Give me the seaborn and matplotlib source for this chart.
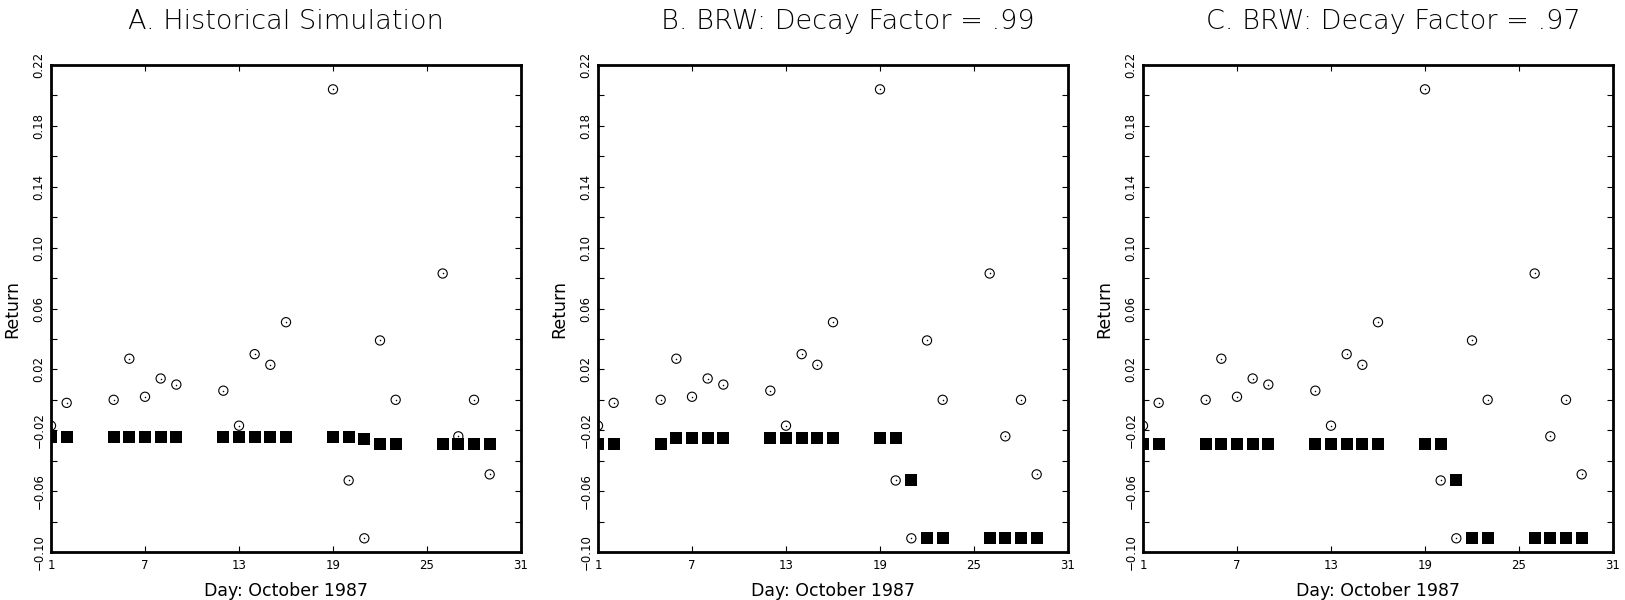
import matplotlib
matplotlib.use("Agg")
import matplotlib.pyplot as plt
import pandas as pd
import seaborn as sns
from matplotlib.ticker import FixedLocator, FixedFormatter

# Trading days of October 1987 and the realised daily returns
days = [1, 2, 5, 6, 7, 8, 9, 12, 13, 14, 15, 16, 19, 20, 21, 22, 23, 26, 27, 28, 29]
returns = [-0.017, -0.002, 0.000, 0.027, 0.002, 0.014, 0.010, 0.006, -0.017, 0.030,
           0.023, 0.051, 0.204, -0.053, -0.091, 0.039, 0.000, 0.083, -0.024, 0.000,
           -0.049]

# Value-at-risk forecasts for each method
var_hist = [-0.0245, -0.0245, -0.0245, -0.0245, -0.0245, -0.0245, -0.0245, -0.0245,
            -0.0245, -0.0245, -0.0245, -0.0245, -0.0245, -0.0245, -0.0255, -0.029,
            -0.029, -0.029, -0.029, -0.029, -0.029]
var_brw99 = [-0.029, -0.029, -0.029, -0.0248, -0.0248, -0.0248, -0.0248, -0.0248,
             -0.0248, -0.0248, -0.0248, -0.0248, -0.0248, -0.0248, -0.053, -0.091,
             -0.091, -0.091, -0.091, -0.091, -0.091]
var_brw97 = [-0.029, -0.029, -0.029, -0.029, -0.029, -0.029, -0.029, -0.029,
             -0.029, -0.029, -0.029, -0.029, -0.029, -0.029, -0.053, -0.091,
             -0.091, -0.091, -0.091, -0.091, -0.091]

titles = ["A. Historical Simulation", "B. BRW: Decay Factor = .99",
          "C. BRW: Decay Factor = .97"]

x_ticks = [1, 7, 13, 19, 25, 31]
x_tick_labels = ["1", "7", "13", "19", "25", "31"]
y_ticks = [-0.10, -0.06, -0.02, 0.02, 0.06, 0.10, 0.14, 0.18, 0.22]
y_tick_labels = ["\u22120.10", "\u22120.06", "\u22120.02", "0.02", "0.06", "0.10",
                 "0.14", "0.18", "0.22"]
y_minor_ticks = [-0.08, -0.04, 0.00, 0.04, 0.08, 0.12, 0.16, 0.20]

sns.set_style("white")
plt.rcParams["font.family"] = ["DejaVu Sans"]

fig = plt.figure(figsize=(16.25, 6.0), dpi=100)

lefts = [51, 598, 1143]
title_x = [0.5, 0.532, 0.532]
ax_w, top_px, bot_px = 470, 65, 552
W, H = 1625, 600

for left, tx, title, var in zip(lefts, title_x, titles,
                                [var_hist, var_brw99, var_brw97]):
    ax = fig.add_axes([left / W, 1 - bot_px / H, ax_w / W, (bot_px - top_px) / H])
    df = pd.DataFrame({"day": days, "ret": returns, "var": var})

    sns.scatterplot(data=df, x="day", y="var", ax=ax, marker="s", s=63,
                    color="black", linewidth=0, zorder=3)
    sns.scatterplot(data=df, x="day", y="ret", ax=ax, marker="o", s=44,
                    facecolor="none", edgecolor="black", linewidth=0.8, zorder=4)
    sns.scatterplot(data=df, x="day", y="ret", ax=ax, marker="o", s=1.2,
                    color="black", linewidth=0, zorder=5)

    ax.set_xlim(1, 31)
    ax.set_ylim(-0.10, 0.22)

    ax.xaxis.set_major_locator(FixedLocator(x_ticks))
    ax.xaxis.set_major_formatter(FixedFormatter(x_tick_labels))
    ax.yaxis.set_major_locator(FixedLocator(y_ticks))
    ax.yaxis.set_major_formatter(FixedFormatter(y_tick_labels))
    ax.yaxis.set_minor_locator(FixedLocator(y_minor_ticks))

    ax.tick_params(which="both", direction="in", top=True, right=True,
                   bottom=True, left=True, length=4.5, width=0.8, color="black",
                   labelsize=8.5, labelcolor="black")
    ax.tick_params(axis="x", pad=5)
    ax.tick_params(axis="y", pad=4)
    for lab in ax.get_yticklabels():
        lab.set_rotation(90)
        lab.set_va("center")

    for sp in ax.spines.values():
        sp.set_visible(True)
        sp.set_linewidth(2.0)
        sp.set_color("black")

    ax.set_xlabel("Day: October 1987", fontsize=12.5, labelpad=7, color="black")
    ax.set_ylabel("Return", fontsize=12.5, labelpad=8, color="black")
    ax.set_title(title, x=tx, fontsize=19.5, fontweight="light", color="black",
                 pad=26)

fig.savefig("out.png", dpi=100, facecolor="white")
